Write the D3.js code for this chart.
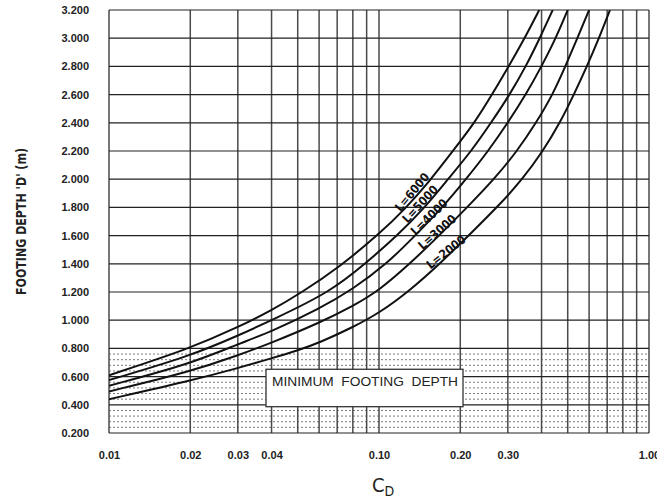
<!DOCTYPE html>
<html>
<head>
<meta charset="utf-8">
<script src="https://cdn.jsdelivr.net/npm/d3@7"></script>
<style>
  body { margin: 0; background: #fff; }
  svg { display: block; }
</style>
</head>
<body>
<svg></svg>
<script>
// curve data: [C_D, depth D (m)]
var curve6000 = [[0.01,0.61],[0.02,0.80],[0.03,0.95],[0.04,1.07],[0.0511,1.19],[0.0717,1.38],[0.1,1.61],[0.125,1.79],[0.153,1.98],[0.186,2.19],[0.228,2.41],[0.262,2.6],[0.298,2.78],[0.342,2.98],[0.392,3.2]];
var curve5000 = [[0.01,0.575],[0.02,0.746],[0.03,0.89],[0.04,1.0],[0.066,1.2],[0.0888,1.4],[0.117,1.6],[0.148,1.8],[0.18,2.0],[0.22,2.2],[0.26,2.4],[0.305,2.6],[0.35,2.8],[0.394,3.0],[0.44,3.2]];
var curve4000 = [[0.01,0.535],[0.02,0.69],[0.03,0.83],[0.04,0.92],[0.06,1.08],[0.08,1.22],[0.107,1.4],[0.136,1.6],[0.172,1.8],[0.21,2.0],[0.254,2.2],[0.30,2.4],[0.35,2.6],[0.40,2.8],[0.452,3.0],[0.50,3.2]];
var curve3000 = [[0.01,0.495],[0.02,0.635],[0.03,0.75],[0.04,0.84],[0.06,0.98],[0.08,1.1],[0.1,1.21],[0.13,1.4],[0.167,1.6],[0.212,1.8],[0.267,2.0],[0.325,2.2],[0.382,2.4],[0.44,2.6],[0.49,2.8],[0.543,3.0],[0.60,3.2]];
var curve2000 = [[0.01,0.44],[0.02,0.57],[0.03,0.66],[0.04,0.73],[0.05,0.785],[0.06,0.84],[0.08,0.95],[0.1,1.05],[0.13,1.21],[0.17,1.41],[0.22,1.62],[0.28,1.82],[0.34,2.0],[0.405,2.2],[0.468,2.4],[0.527,2.6],[0.589,2.8],[0.653,3.0],[0.717,3.2]];

var curveNames = ["L=6000", "L=5000", "L=4000", "L=3000", "L=2000"];
var curves = [curve6000, curve5000, curve4000, curve3000, curve2000];
// where each label sits: [C_D, D, angle]
var labelSpots = [[0.1325,1.909,-50],[0.1419,1.824,-47],[0.1532,1.732,-44],[0.164,1.626,-41],[0.177,1.484,-38]];

var xTicks = [0.01, 0.02, 0.03, 0.04, 0.1, 0.2, 0.3, 1.0];
var xGrid = [0.01,0.02,0.03,0.04,0.05,0.06,0.07,0.08,0.09,0.1,0.2,0.3,0.4,0.5,0.6,0.7,0.8,0.9,1.0];
var yTicks = [0.2,0.4,0.6,0.8,1.0,1.2,1.4,1.6,1.8,2.0,2.2,2.4,2.6,2.8,3.0,3.2];
var minDepth = 0.8;
var boxText = "MINIMUM  FOOTING  DEPTH";
var boxArea = [0.03815, 0.2047, 0.3865, 0.652]; // C from, C to, D from, D to

var width = 657;
var height = 501;
var padLeft = 109, padRight = 649, padTop = 10, padBottom = 433;

var svg = d3.select("svg").attr("width", width).attr("height", height);

var xScale = d3.scaleLog().domain([0.01, 1]).range([padLeft, padRight]);
var yScale = d3.scaleLinear().domain([0.2, 3.2]).range([padBottom, padTop]);

svg.append("defs").append("clipPath").attr("id", "plot")
  .append("rect")
  .attr("x", padLeft).attr("y", padTop)
  .attr("width", padRight - padLeft).attr("height", padBottom - padTop);

/* dotted band for minimum footing depth */
var dots = d3.range(0.24, minDepth, 0.04).filter((d) => Math.abs(d / 0.2 - Math.round(d / 0.2)) > 0.01);
svg.append("g")
  .selectAll("line")
  .data(dots)
  .enter()
  .append("line")
  .attr("x1", padLeft).attr("x2", padRight)
  .attr("y1", (d) => yScale(d)).attr("y2", (d) => yScale(d))
  .attr("stroke", "#7a7a7a")
  .attr("stroke-width", 1)
  .attr("stroke-dasharray", "2,2");

/* grid */
svg.append("g")
  .selectAll("line")
  .data(xGrid)
  .enter()
  .append("line")
  .attr("x1", (d) => xScale(d)).attr("x2", (d) => xScale(d))
  .attr("y1", padTop).attr("y2", padBottom)
  .attr("stroke", "#4a4a4a")
  .attr("stroke-width", 1.5);

svg.append("g")
  .selectAll("line")
  .data(yTicks)
  .enter()
  .append("line")
  .attr("x1", padLeft).attr("x2", padRight)
  .attr("y1", (d) => yScale(d)).attr("y2", (d) => yScale(d))
  .attr("stroke", "#222")
  .attr("stroke-width", 1.2);

/* box */
svg.append("rect")
  .attr("x", xScale(boxArea[0]))
  .attr("y", yScale(boxArea[3]))
  .attr("width", xScale(boxArea[1]) - xScale(boxArea[0]))
  .attr("height", yScale(boxArea[2]) - yScale(boxArea[3]))
  .attr("fill", "#fff")
  .attr("stroke", "#333")
  .attr("stroke-width", 1.3);

svg.append("text")
  .attr("x", xScale(boxArea[0]) + 6)
  .attr("y", yScale(boxArea[3]) + 17)
  .attr("textLength", 186)
  .attr("lengthAdjust", "spacingAndGlyphs")
  .attr("font-family", "Liberation Sans, Arial, sans-serif")
  .attr("font-size", 13.5)
  .attr("fill", "#222")
  .style("white-space", "pre")
  .text(boxText);

/* curves */
var line = d3.line()
  .x((d) => xScale(d[0]))
  .y((d) => yScale(d[1]))
  .curve(d3.curveBasis);

svg.append("g")
  .attr("clip-path", "url(#plot)")
  .selectAll("path")
  .data(curves)
  .enter()
  .append("path")
  .attr("d", line)
  .attr("fill", "none")
  .attr("stroke", "#111")
  .attr("stroke-width", 2);

svg.append("g")
  .selectAll("text")
  .data(curveNames)
  .enter()
  .append("text")
  .attr("transform", (d, i) => "translate(" + xScale(labelSpots[i][0]) + "," + yScale(labelSpots[i][1]) + ") rotate(" + labelSpots[i][2] + ")")
  .attr("text-anchor", "middle")
  .attr("dy", "0.35em")
  .attr("font-family", "DejaVu Sans Condensed, Liberation Sans Narrow, sans-serif")
  .attr("font-weight", "bold")
  .attr("font-size", 12)
  .attr("fill", "#111")
  .text((d) => d);

/* axes */
var xAxis = d3.axisBottom(xScale).tickValues(xTicks).tickFormat(d3.format(".2f")).tickSize(0).tickPadding(18);
var gx = svg.append("g")
  .attr("transform", "translate(0," + padBottom + ")")
  .call(xAxis);
gx.select(".domain").remove();

var yAxis = d3.axisLeft(yScale).tickValues(yTicks).tickFormat(d3.format(".3f")).tickSize(0).tickPadding(20);
var gy = svg.append("g")
  .attr("transform", "translate(" + padLeft + ",0)")
  .call(yAxis);
gy.select(".domain").remove();

svg.selectAll(".tick text")
  .attr("font-family", "Liberation Sans, Arial, sans-serif")
  .attr("font-weight", "bold")
  .attr("font-size", 11)
  .attr("fill", "#222");

svg.append("text")
  .attr("transform", "translate(26," + (padTop + padBottom) / 2 + ") rotate(-90)")
  .attr("text-anchor", "middle")
  .attr("textLength", 147)
  .attr("lengthAdjust", "spacingAndGlyphs")
  .attr("font-family", "DejaVu Sans Condensed, sans-serif")
  .attr("font-weight", "bold")
  .attr("font-size", 14)
  .attr("fill", "#222")
  .text("FOOTING DEPTH 'D' (m)");

var title = svg.append("text")
  .attr("x", 372)
  .attr("y", 492)
  .attr("font-family", "DejaVu Sans Condensed, sans-serif")
  .attr("font-size", 20)
  .attr("fill", "#222");
title.append("tspan").text("C");
title.append("tspan").attr("dy", 4).attr("font-size", 14).text("D");
</script>
</body>
</html>
